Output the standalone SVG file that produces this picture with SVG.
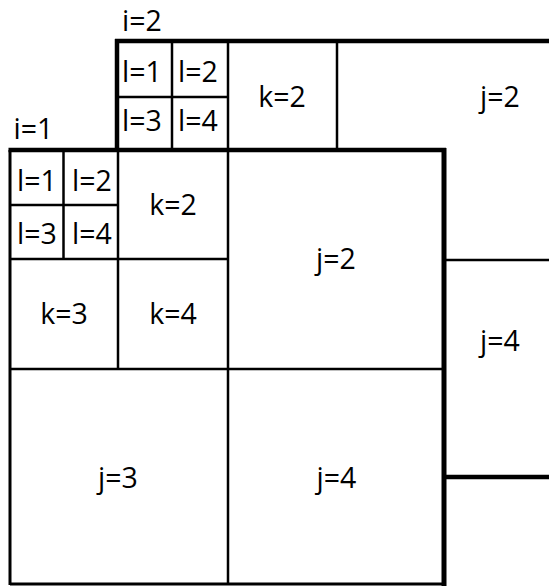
<svg xmlns="http://www.w3.org/2000/svg" width="549" height="586" viewBox="0 0 549 586">
<style>
.t{font-family:"Open Sans","Liberation Sans",Arial,sans-serif;font-size:28.5px;fill:#000;text-anchor:middle}
.thin{stroke:#000;stroke-width:2.5;fill:none}
.thick{stroke:#000;stroke-width:4.5;fill:none}
</style>
<rect x="0" y="0" width="549" height="586" fill="#fff"/>
<g id="connectors">
<g id="grid-i2">
<line class="thin" x1="172" y1="41" x2="172" y2="150"/>
<line class="thin" x1="228" y1="41" x2="228" y2="150"/>
<line class="thin" x1="117" y1="97" x2="228" y2="97"/>
<line class="thin" x1="337" y1="41" x2="337" y2="150"/>
<line class="thin" x1="444" y1="260" x2="549" y2="260"/>
<line class="thick" x1="444" y1="477" x2="549" y2="477"/>
<line class="thick" x1="117" y1="39" x2="117" y2="150"/>
<line class="thick" x1="115" y1="41" x2="549" y2="41"/>
</g>
<g id="grid-i1">
<rect x="10" y="150" width="434" height="434" fill="#fff" stroke="none"/>
<line class="thin" x1="63.5" y1="150" x2="63.5" y2="259"/>
<line class="thin" x1="10" y1="205" x2="118" y2="205"/>
<line class="thin" x1="118" y1="150" x2="118" y2="369"/>
<line class="thin" x1="10" y1="259" x2="228" y2="259"/>
<line class="thin" x1="228" y1="150" x2="228" y2="584"/>
<line class="thin" x1="10" y1="369" x2="444" y2="369"/>
<line stroke="#000" stroke-width="3" x1="10" y1="150" x2="10" y2="585"/>
<line stroke="#000" stroke-width="3" x1="10" y1="584" x2="446" y2="584"/>
<line class="thick" x1="8.5" y1="150" x2="446" y2="150"/>
<line stroke="#000" stroke-width="5" x1="444" y1="148" x2="444" y2="586"/>
</g>
</g>
<g id="label-i2"><text class="t" x="142" y="31">i=2</text></g>
<g id="label-i1"><text class="t" x="33.5" y="139">i=1</text></g>
<g id="b-l1"><text class="t" x="142" y="82">l=1</text></g>
<g id="b-l2"><text class="t" x="198" y="82">l=2</text></g>
<g id="b-l3"><text class="t" x="142" y="131">l=3</text></g>
<g id="b-l4"><text class="t" x="198" y="131">l=4</text></g>
<g id="b-k2"><text class="t" x="282" y="107">k=2</text></g>
<g id="b-j2"><text class="t" x="500" y="107">j=2</text></g>
<g id="b-j4"><text class="t" x="500" y="351">j=4</text></g>
<g id="f-l1"><text class="t" x="37" y="191">l=1</text></g>
<g id="f-l2"><text class="t" x="92" y="191">l=2</text></g>
<g id="f-l3"><text class="t" x="37" y="244">l=3</text></g>
<g id="f-l4"><text class="t" x="92" y="244">l=4</text></g>
<g id="f-k2"><text class="t" x="173" y="215">k=2</text></g>
<g id="f-k3"><text class="t" x="64" y="324">k=3</text></g>
<g id="f-k4"><text class="t" x="173" y="324">k=4</text></g>
<g id="f-j2"><text class="t" x="336" y="269">j=2</text></g>
<g id="f-j3"><text class="t" x="118" y="488">j=3</text></g>
<g id="f-j4"><text class="t" x="336.5" y="488">j=4</text></g>
</svg>
